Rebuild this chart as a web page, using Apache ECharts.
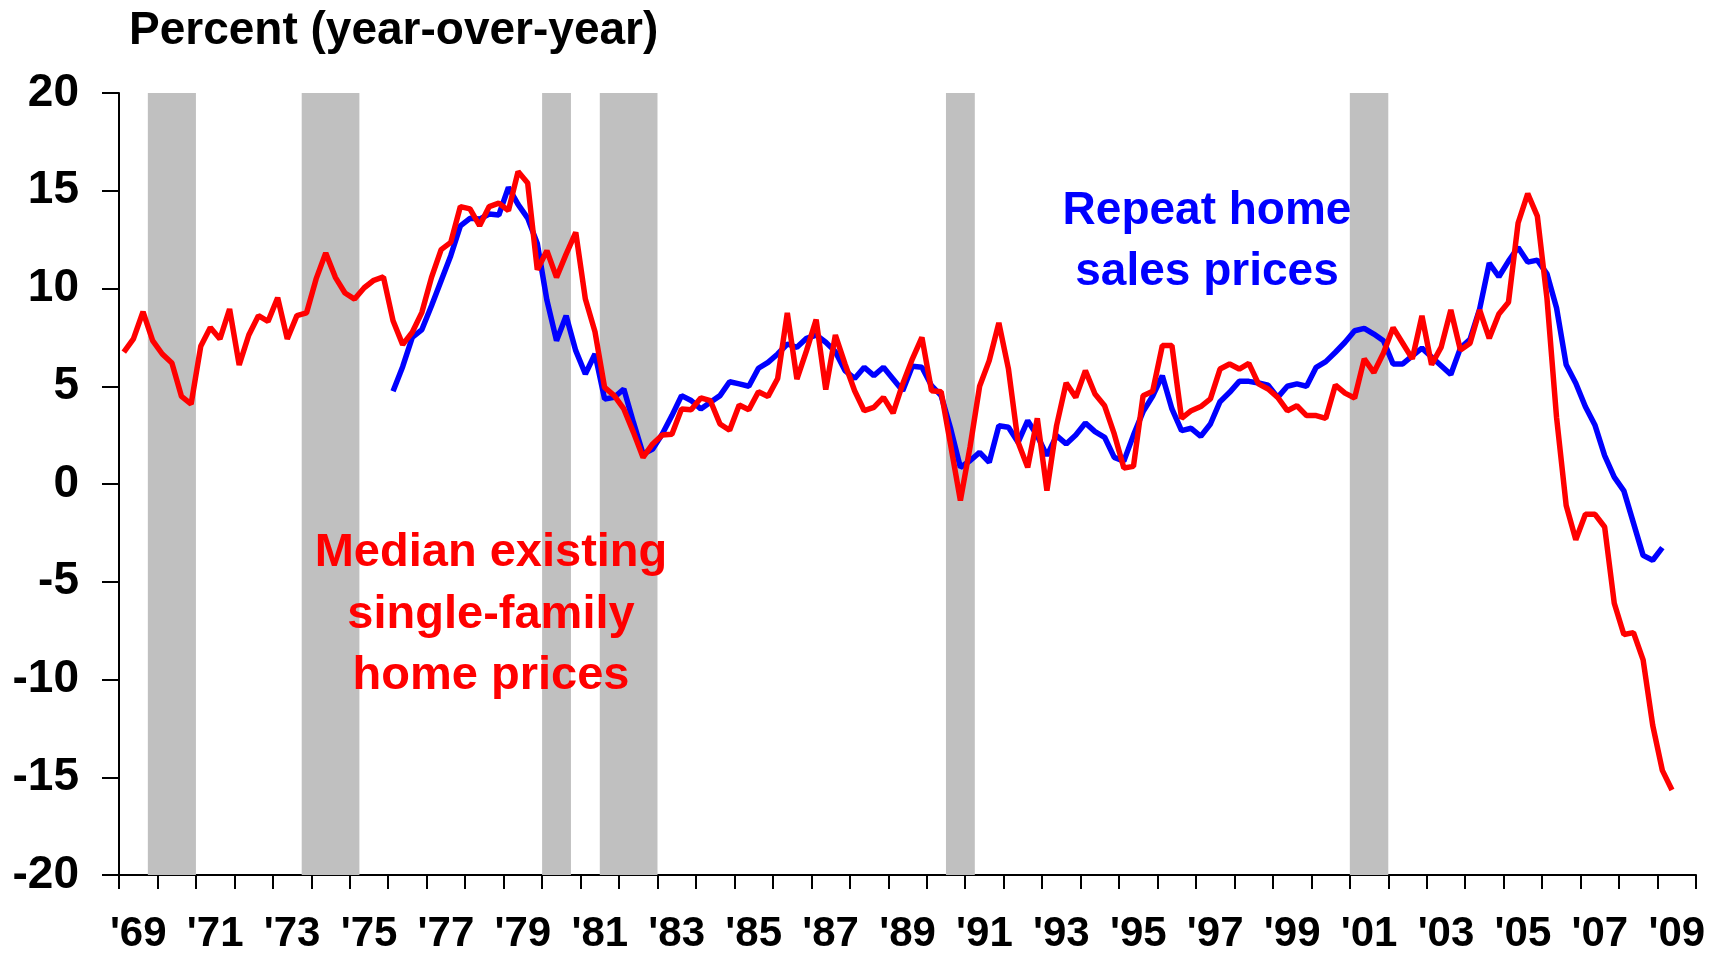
<!DOCTYPE html>
<html>
<head>
<meta charset="utf-8">
<script src="https://cdn.jsdelivr.net/npm/echarts@6/dist/echarts.min.js"></script>
<style>
  html, body { margin: 0; padding: 0; background: #fff; }
  #chart { width: 1723px; height: 955px; }
</style>
</head>
<body>
<div id="chart"></div>
<script>
// quarterly data, first quarter = 1969Q1
var startYear = 1969;
var yearLabels = [];
for (var y = 1969; y <= 2009; y++) yearLabels.push("'" + String(y).slice(2));

// median existing single-family home prices, % y/y (1969Q1 .. 2009Q2)
var medianPrices = [
  6.74, 7.42, 8.81, 7.33, 6.65, 6.19, 4.48, 4.09, 7.04, 8.01,
  7.42, 8.95, 6.09, 7.62, 8.61, 8.32, 9.53, 7.42, 8.61, 8.75,
  10.49, 11.82, 10.57, 9.77, 9.46, 10.04, 10.42, 10.59, 8.35, 7.13,
  7.76, 8.78, 10.57, 11.99, 12.36, 14.19, 14.07, 13.21, 14.19, 14.37,
  13.98, 15.98, 15.40, 10.96, 11.93, 10.57, 11.76, 12.87, 9.46, 7.79,
  4.94, 4.52, 3.84, 2.64, 1.36, 2.05, 2.51, 2.55, 3.84, 3.8,
  4.4, 4.26, 3.07, 2.75, 4.04, 3.80, 4.72, 4.48, 5.4, 8.75,
  5.37, 6.82, 8.41, 4.83, 7.62, 6.14, 4.77, 3.75, 3.92, 4.43,
  3.63, 5.12, 6.39, 7.5, 4.77, 4.72, 1.96, -0.85, 1.88, 5.0,
  6.31, 8.24, 5.88, 2.13, 0.85, 3.36, -0.34, 2.98, 5.17, 4.43,
  5.8, 4.6, 4.0, 2.56, 0.82, 0.9, 4.52, 4.75, 7.08, 7.08,
  3.36, 3.75, 3.96, 4.35, 5.88, 6.14, 5.88, 6.17, 5.12, 4.86,
  4.43, 3.75, 4.0, 3.5, 3.5, 3.36, 5.06, 4.65, 4.4, 6.4,
  5.7, 6.7, 8.0, 7.2, 6.4, 8.6, 6.1, 7.0, 8.9, 6.85,
  7.2, 8.9, 7.45, 8.7, 9.3, 13.35, 14.85, 13.7, 9.5, 3.4,
  -1.1, -2.85, -1.55, -1.55, -2.2, -6.1, -7.7, -7.6, -9.0, -12.35,
  -14.65, -15.65
];

// repeat home sales prices, % y/y (starts 1976Q1 = quarter 28)
var repeatStart = 28;
var repeatPrices = [
  4.74, 6.0, 7.5, 7.9, 9.12, 10.4, 11.68, 13.2, 13.59, 13.55,
  13.81, 13.76, 15.17, 14.3, 13.6, 12.3, 9.4, 7.33, 8.61, 6.82,
  5.63, 6.65, 4.35, 4.43, 4.86, 3.15, 1.53, 1.79, 2.56, 3.5,
  4.52, 4.27, 3.84, 4.18, 4.52, 5.23, 5.12, 5.0, 5.92, 6.22,
  6.65, 7.16, 6.99, 7.45, 7.62, 7.25, 6.77, 5.8, 5.4, 5.97,
  5.54, 5.97, 5.37, 4.77, 6.02, 5.97, 5.03, 4.52, 2.81, 0.85,
  1.19, 1.62, 1.11, 2.98, 2.9, 2.13, 3.24, 2.47, 1.45, 2.47,
  2.05, 2.51, 3.12, 2.68, 2.39, 1.36, 1.17, 2.5, 3.7, 4.5,
  5.54, 3.84, 2.73, 2.85, 2.44, 3.07, 4.21, 4.69, 5.25, 5.25,
  5.17, 5.06, 4.43, 5.0, 5.12, 5.0, 5.97, 6.26, 6.74, 7.25,
  7.84, 7.96, 7.67, 7.33, 6.14, 6.14, 6.55, 6.95, 6.5, 6.05,
  5.6, 6.95, 7.4, 8.95, 11.3, 10.6, 11.4, 12.1, 11.35, 11.45,
  10.75, 9.0, 6.1, 5.15, 3.95, 3.0, 1.45, 0.35, -0.35, -2.0,
  -3.65, -3.9, -3.25
];

// recessions (start, end) in years
var recessions = [
  [1969.75, 1971.0], [1973.75, 1975.25], [1980.0, 1980.75],
  [1981.5, 1983.0], [1990.5, 1991.25], [2001.0, 2002.0]
];

var yTicks = [-20, -15, -10, -5, 0, 5, 10, 15, 20];

var fontFam = 'Arial, "Liberation Sans", sans-serif';

function toPoints(arr, offset) {
  return arr.map(function (v, i) {
    return [startYear + (i + offset + 0.5) / 4, v];
  });
}

var myChart = echarts.init(document.getElementById('chart'));

var option = {
  animation: false,
  backgroundColor: '#fff',
  title: {
    text: 'Percent (year-over-year)',
    left: 124,
    top: 3,
    textStyle: { fontFamily: fontFam, fontSize: 46, fontWeight: 'bold', color: '#000' }
  },
  grid: { left: 119, right: 27, top: 93, bottom: 79 },
  xAxis: [
    {
      type: 'value',
      min: 1969,
      max: 2010,
      interval: 1,
      axisLine: { show: true, onZero: false, lineStyle: { color: '#000', width: 2 } },
      axisTick: { show: true, length: 14, lineStyle: { color: '#000', width: 2 } },
      axisLabel: { show: false },
      splitLine: { show: false }
    },
    {
      type: 'category',
      position: 'bottom',
      data: yearLabels,
      boundaryGap: true,
      axisLine: { show: false },
      axisTick: { show: false },
      axisLabel: {
        interval: 1,
        margin: 38,
        fontFamily: fontFam,
        fontSize: 42,
        fontWeight: 'bold',
        color: '#000'
      }
    }
  ],
  yAxis: {
    type: 'value',
    min: yTicks[0],
    max: yTicks[yTicks.length - 1],
    interval: 5,
    axisLine: { show: true, lineStyle: { color: '#000', width: 2 } },
    axisTick: { show: true, length: 17, lineStyle: { color: '#000', width: 2 } },
    axisLabel: {
      margin: 40,
      padding: [9, 0, 0, 0],
      fontFamily: fontFam,
      fontSize: 46,
      fontWeight: 'bold',
      color: '#000'
    },
    splitLine: { show: false }
  },
  graphic: [
    {
      type: 'text', x: 1207, y: 242, z: 100,
      style: { text: 'Repeat home\nsales prices', fill: '#0000FF', font: 'bold 46px ' + fontFam,
        textAlign: 'center', textVerticalAlign: 'middle', lineHeight: 61 }
    },
    {
      type: 'text', x: 491, y: 615, z: 100,
      style: { text: 'Median existing\nsingle-family\nhome prices', fill: '#FF0000', font: 'bold 47px ' + fontFam,
        textAlign: 'center', textVerticalAlign: 'middle', lineHeight: 61.5 }
    }
  ],
  series: [
    {
      name: 'recessions',
      type: 'line',
      data: [],
      z: 1,
      silent: true,
      markArea: {
        silent: true,
        itemStyle: { color: '#C0C0C0', opacity: 1 },
        data: recessions.map(function (r) {
          return [{ xAxis: r[0], yAxis: -20 }, { xAxis: r[1], yAxis: 20.25 }];
        })
      }
    },
    {
      name: 'Repeat home sales prices',
      type: 'line',
      z: 3,
      symbol: 'none',
      lineStyle: { color: '#0000FF', width: 5.5 },
      data: toPoints(repeatPrices, repeatStart)
    },
    {
      name: 'Median existing single-family home prices',
      type: 'line',
      z: 4,
      symbol: 'none',
      lineStyle: { color: '#FF0000', width: 5.5 },
      data: toPoints(medianPrices, 0)
    }
  ]
};

myChart.setOption(option);
</script>
</body>
</html>
